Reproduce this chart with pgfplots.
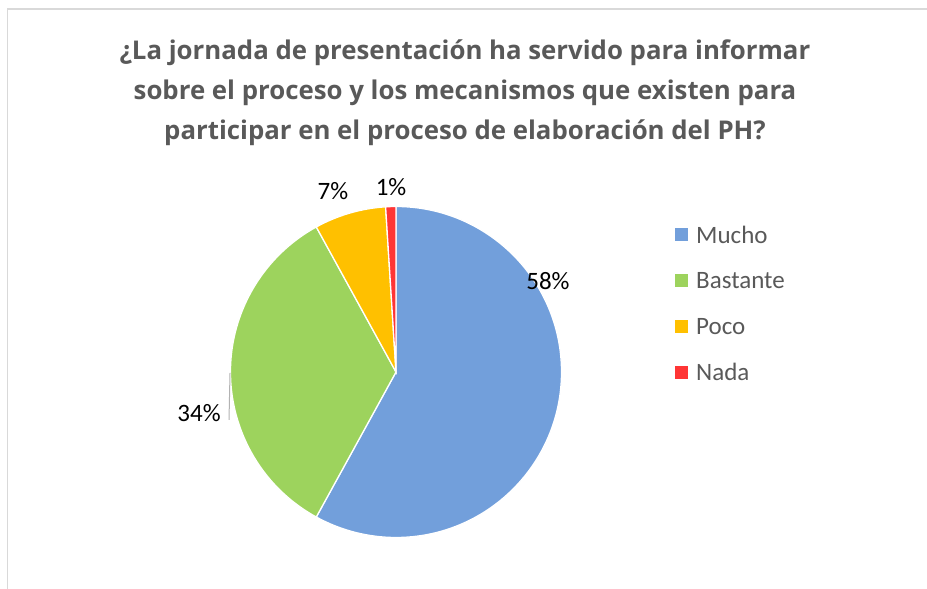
\documentclass[border=0pt]{standalone}
\usepackage{fontspec}
\setmainfont{Carlito}
\newfontfamily\titlefont{Open Sans}
\usepackage{pgfplots}
\pgfplotsset{compat=1.18}

\definecolor{mucho}{HTML}{729FDB}
\definecolor{bastante}{HTML}{9DD35D}
\definecolor{poco}{HTML}{FFC000}
\definecolor{nada}{HTML}{FF3535}
\definecolor{titlegray}{HTML}{595959}
\definecolor{framegray}{HTML}{D9D9D9}

% percentages (clockwise from 12 o'clock)
\def\pMucho{58}
\def\pBastante{34}
\def\pPoco{7}
\def\pNada{1}

\begin{document}
\begin{tikzpicture}[x=1bp,y=1bp]
\path[use as bounding box] (0,0) rectangle (927,589);
% chart frame (only top and left edges visible)
\draw[framegray, line width=1.5bp] (927,580) -- (7.5,580) -- (7.5,0);

% title
\node[font=\titlefont\bfseries\fontsize{25.8bp}{40bp}\selectfont, text=titlegray, align=center]
  at (465,496) {¿La jornada de presentación ha servido para informar\\
  sobre el proceso y los mecanismos que existen para\\
  participar en el proceso de elaboración del PH?};

\begin{axis}[
  at={(396bp,217bp)}, anchor=center,
  scale only axis, width=331bp, height=331bp,
  xmin=-1, xmax=1, ymin=-1, ymax=1,
  hide axis, clip=false,
]
\pgfmathsetmacro{\aA}{90}
\pgfmathsetmacro{\aB}{90-3.6*\pMucho}
\pgfmathsetmacro{\aC}{90-3.6*(\pMucho+\pBastante)}
\pgfmathsetmacro{\aD}{90-3.6*(\pMucho+\pBastante+\pPoco)}
\pgfmathsetmacro{\aE}{90-3.6*(\pMucho+\pBastante+\pPoco+\pNada)}
\filldraw[fill=mucho, draw=white, line width=1.3bp] (axis cs:0,0) -- ++(\aA:165.5bp)
  arc[start angle=\aA, end angle=\aB, radius=165.5bp] -- cycle;
\filldraw[fill=bastante, draw=white, line width=1.3bp] (axis cs:0,0) -- ++(\aB:165.5bp)
  arc[start angle=\aB, end angle=\aC, radius=165.5bp] -- cycle;
\filldraw[fill=poco, draw=white, line width=1.3bp] (axis cs:0,0) -- ++(\aC:165.5bp)
  arc[start angle=\aC, end angle=\aD, radius=165.5bp] -- cycle;
\filldraw[fill=nada, draw=white, line width=1.3bp] (axis cs:0,0) -- ++(\aD:165.5bp)
  arc[start angle=\aD, end angle=\aE, radius=165.5bp] -- cycle;

% data labels
\node[font=\fontsize{25bp}{30bp}\selectfont] at (axis cs:0.918,0.550) {\pMucho\%};
\node[font=\fontsize{25bp}{30bp}\selectfont] at (axis cs:-1.190,-0.248) {\pBastante\%};
\node[font=\fontsize{25bp}{30bp}\selectfont] at (axis cs:-0.381,1.094) {\pPoco\%};
\node[font=\fontsize{25bp}{30bp}\selectfont] at (axis cs:-0.030,1.118) {\pNada\%};
\draw[gray!60, line width=1bp] (axis cs:-1.003,-0.006) -- (axis cs:-1.009,-0.290);
\end{axis}

% legend
\foreach \c/\t [count=\i from 0] in {mucho/Mucho, bastante/Bastante, poco/Poco, nada/Nada} {
  \fill[\c] (675,{589-235-45.7*\i-6.5}) rectangle ++(13,13);
  \node[anchor=west, inner sep=0pt, text=titlegray, font=\fontsize{25bp}{30bp}\selectfont]
    at (696,{589-235-45.7*\i}) {\t};
}
\end{tikzpicture}
\end{document}
